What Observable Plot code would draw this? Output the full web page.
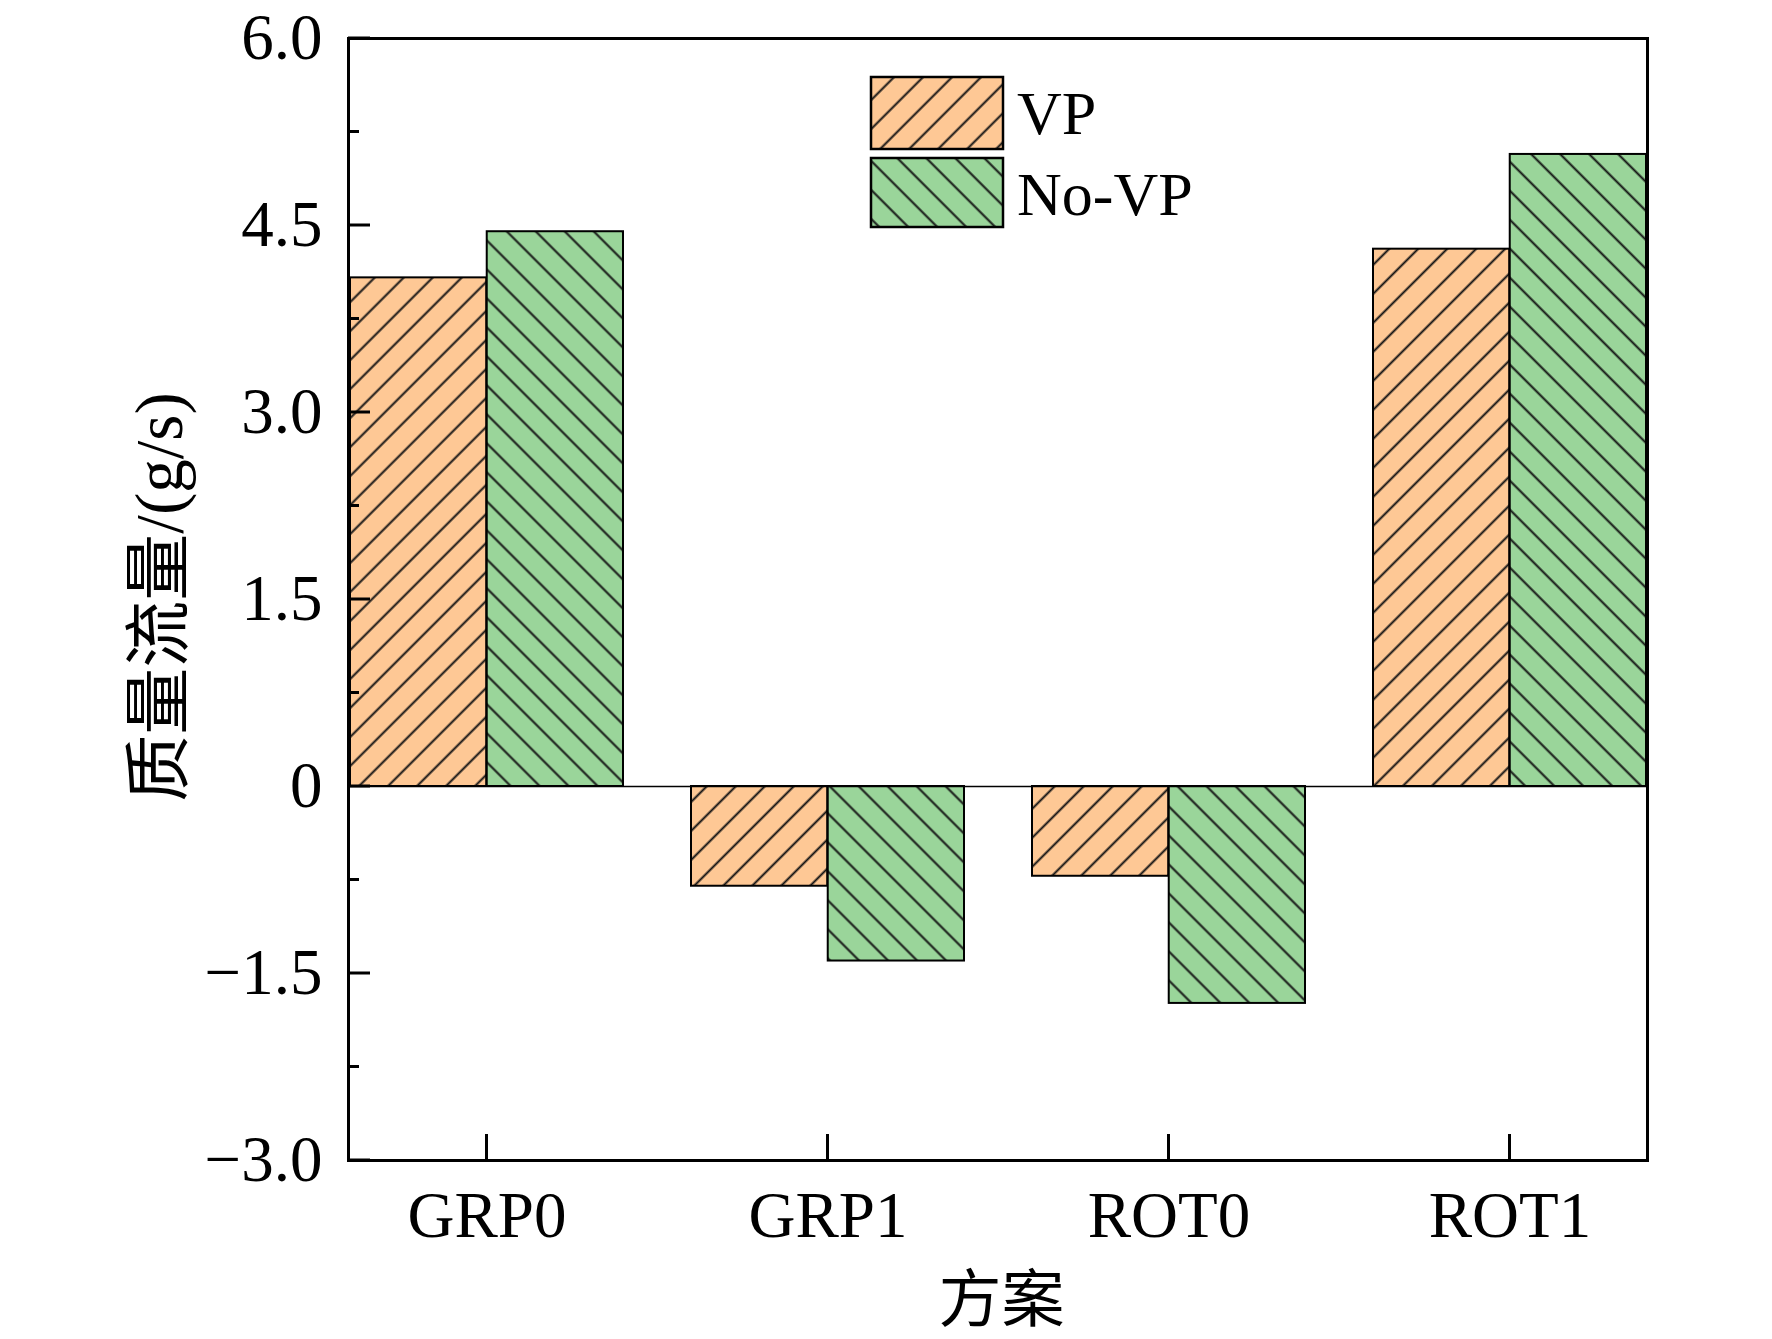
<!DOCTYPE html>
<html>
<head>
<meta charset="utf-8">
<script src="https://cdn.jsdelivr.net/npm/d3@7"></script>
<script src="https://cdn.jsdelivr.net/npm/@observablehq/plot@0.6"></script>
<style>
  html, body { margin: 0; padding: 0; background: #fff; }
  #chart svg { display: block; }
</style>
</head>
<body>
<div id="chart"></div>
<script>
// ---- data ----
const categories = ["GRP0", "GRP1", "ROT0", "ROT1"];
const seriesNames = ["VP", "No-VP"];
const vpValues = [4.08, -0.80, -0.72, 4.31];
const noVpValues = [4.45, -1.40, -1.74, 5.07];
const yTicks = [-3, -1.5, 0, 1.5, 3, 4.5, 6];
const yTickLabels = ["\u22123.0", "\u22121.5", "0", "1.5", "3.0", "4.5", "6.0"];
const yMinorTicks = [-2.25, -0.75, 0.75, 2.25, 3.75, 5.25];
const yLabel = "质量流量/(g/s)";
const xLabel = "方案";

// ---- layout ----
const W = 1772, H = 1339;
const mL = 348, mR = 125, mT = 38, mB = 179;
const colors = {"VP": "#FEC895", "No-VP": "#9AD59A"};
const font = "'Liberation Serif', 'Times New Roman', 'Noto Sans CJK SC', serif";

const vpData = categories.map((c, i) => ({category: c, value: vpValues[i]}));
const noVpData = categories.map((c, i) => ({category: c, value: noVpValues[i]}));
const labelMap = new Map(yTicks.map((t, i) => [t, yTickLabels[i]]));

const xOpts = {type: "band", domain: categories, paddingInner: 0.2, paddingOuter: 0};
const bw = Plot.scale({x: {...xOpts, range: [mL, W - mR]}}).bandwidth;
const half = bw / 2;

const plot = Plot.plot({
  width: W, height: H,
  marginLeft: mL, marginRight: mR, marginTop: mT, marginBottom: mB,
  x: {...xOpts, label: null},
  y: {domain: [-3, 6], label: null},
  style: {fontFamily: font, fontSize: "65px", background: "white", color: "black", overflow: "visible"},
  marks: [
    Plot.barY(vpData, {x: "category", y: "value", fill: "url(#hatch-vp)", stroke: "black", strokeWidth: 2, insetRight: half}),
    Plot.barY(noVpData, {x: "category", y: "value", fill: "url(#hatch-novp)", stroke: "black", strokeWidth: 2, insetLeft: half}),
    Plot.ruleY([0], {stroke: "black", strokeWidth: 1.6}),
    Plot.frame({stroke: "black", strokeWidth: 3}),
    Plot.axisY(yTicks, {tickSize: 0, tickPadding: 26, tickFormat: d => labelMap.get(d), fontSize: 65, label: null}),
    Plot.axisX({tickSize: 0, tickPadding: 30, fontSize: 65, label: null})
  ]
});

const svg = d3.select(plot);
// hatch patterns
const defs = svg.insert("defs", ":first-child");
function hatch(id, color, angle) {
  const s = 20.5;
  const p = defs.append("pattern")
    .attr("id", id)
    .attr("patternUnits", "userSpaceOnUse")
    .attr("width", s).attr("height", s)
    .attr("patternTransform", `rotate(${angle})`);
  p.append("rect").attr("width", s).attr("height", s).attr("fill", color);
  p.append("line").attr("x1", s / 2).attr("x2", s / 2).attr("y1", -1).attr("y2", s + 1)
    .attr("stroke", "#141414").attr("stroke-width", 2);
}
hatch("hatch-vp", colors["VP"], 45);
hatch("hatch-novp", colors["No-VP"], -45);

const ys = plot.scale("y");
const xs = plot.scale("x");
const g = svg.append("g").attr("stroke", "black").attr("stroke-width", 3);
yTicks.forEach(t => {
  const y = ys.apply(t);
  g.append("line").attr("x1", mL).attr("x2", mL + 22).attr("y1", y).attr("y2", y);
});
yMinorTicks.forEach(t => {
  const y = ys.apply(t);
  g.append("line").attr("x1", mL).attr("x2", mL + 11).attr("y1", y).attr("y2", y);
});
categories.forEach(c => {
  const x = xs.apply(c) + xs.bandwidth / 2;
  g.append("line").attr("x1", x).attr("x2", x).attr("y1", H - mB).attr("y2", H - mB - 26);
});

// axis titles
svg.append("text")
  .attr("transform", `translate(159, ${(mT + H - mB) / 2 - 2}) rotate(-90)`)
  .attr("text-anchor", "middle").attr("dominant-baseline", "central")
  .attr("font-family", font).attr("font-size", 67).attr("fill", "black")
  .text(yLabel);
svg.append("text")
  .attr("x", (mL + W - mR) / 2 + 4).attr("y", 1300)
  .attr("text-anchor", "middle").attr("dominant-baseline", "central")
  .attr("font-family", font).attr("font-size", 63).attr("fill", "black")
  .text(xLabel);

// legend
const lg = svg.append("g");
const legendRows = [
  {name: seriesNames[0], fill: "url(#hatch-vp)", y: 77, h: 72, base: 134},
  {name: seriesNames[1], fill: "url(#hatch-novp)", y: 158, h: 69, base: 215}
];
legendRows.forEach(r => {
  lg.append("rect").attr("x", 871).attr("y", r.y).attr("width", 132).attr("height", r.h)
    .attr("fill", r.fill).attr("stroke", "black").attr("stroke-width", 2.5);
  lg.append("text").attr("x", 1017).attr("y", r.base)
    .attr("text-anchor", "start")
    .attr("font-family", font).attr("font-size", 62).attr("fill", "black")
    .text(r.name);
});

document.getElementById("chart").appendChild(plot);
</script>
</body>
</html>
